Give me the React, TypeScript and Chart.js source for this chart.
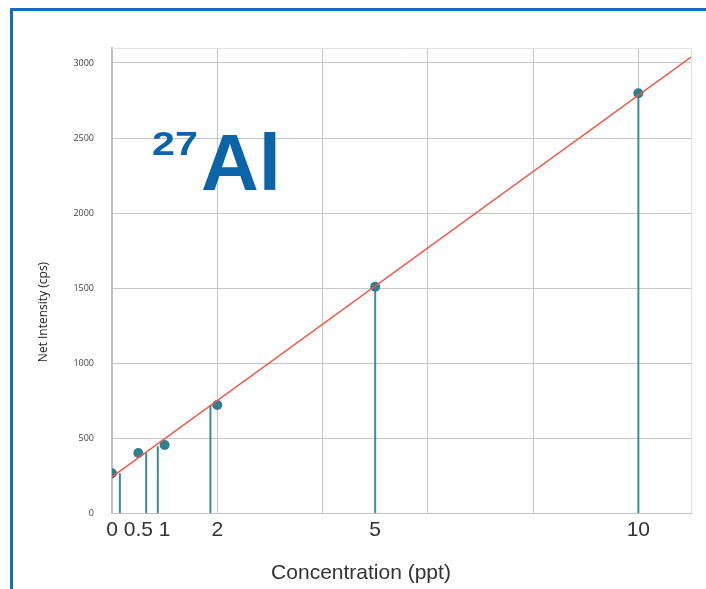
import React, { useEffect, useRef } from 'react';
import { Chart, registerables } from 'chart.js';
Chart.register(...registerables);

// Calibration standards (ppt) and measured net intensity (cps)
const concentrations = [0, 0.5, 1, 2, 5, 10];
const intensities = [265, 400, 453, 720, 1508, 2798];
// Vertical drop lines as drawn in the figure
const stemX = [0.15, 0.65, 0.87, 1.87, 5, 10];
const stemTop = [265, 400, 445, 720, 1508, 2798];
// Fitted calibration line
const fitX = [0, 11];
const fitY = [240, 3040];
// Axis ticks
const xTickValues = [0, 0.5, 1, 2, 4, 5, 6, 8, 10];
const xTickLabels = ['0', '0.5', '1', '2', '5', '10'];
const xGridValues = [2, 4, 6, 8, 10];
const yTickValues = [0, 500, 1000, 1500, 2000, 2500, 3000];

const xTitle = 'Concentration (ppt)';
const yTitle = 'Net Intensity (cps)';
const isotopeMass = '27';
const element = 'Al';

const GRID = '#c3c7cb';
const TEAL = '#2f7f8f';
const STEM = '#3d8d9a';
const RED = '#ef5846';
const BLUE = '#0b64a8';

export default function App() {
  const ref = useRef<HTMLCanvasElement | null>(null);

  useEffect(() => {
    const canvas = ref.current;
    if (!canvas) return;

    const stemData: any[] = [];
    stemX.forEach((x, i) => {
      stemData.push({ x, y: 0 });
      stemData.push({ x, y: stemTop[i] });
      stemData.push({ x, y: null });
    });

    const textPlugin = {
      id: 'texts',
      afterDraw(chart: any) {
        const ctx = chart.ctx;
        const a = chart.chartArea;
        ctx.save();
        // chart area frame (top & right)
        ctx.strokeStyle = '#dfe2e5';
        ctx.lineWidth = 1;
        ctx.beginPath();
        ctx.moveTo(a.left, a.top + 0.5);
        ctx.lineTo(a.right + 0.5, a.top + 0.5);
        ctx.lineTo(a.right + 0.5, a.bottom);
        ctx.stroke();

        // isotope label
        ctx.fillStyle = BLUE;
        ctx.textBaseline = 'alphabetic';
        ctx.textAlign = 'left';
        ctx.save();
        ctx.translate(152, 155);
        ctx.scale(1.25, 1);
        ctx.font = 'bold 33px "Liberation Sans", Arial, sans-serif';
        ctx.fillText(isotopeMass, 0, 0);
        ctx.restore();
        ctx.font = 'bold 80px "Liberation Sans", Arial, sans-serif';
        ctx.fillText(element, 201, 190);

        // axis titles
        ctx.fillStyle = '#333333';
        ctx.textAlign = 'center';
        ctx.textBaseline = 'middle';
        ctx.font = '21px "Liberation Sans", Arial, sans-serif';
        ctx.fillText(xTitle, 361, 573);

        ctx.save();
        ctx.translate(44, 312);
        ctx.rotate(-Math.PI / 2);
        ctx.fillStyle = '#222222';
        ctx.font = '12px "Open Sans", "Noto Sans", sans-serif';
        ctx.fillText(yTitle, 0, 0);
        ctx.restore();
        ctx.restore();
      },
    };

    const chart = new Chart(canvas, {
      type: 'scatter',
      data: {
        datasets: [
          {
            type: 'line',
            label: 'Fit',
            data: fitX.map((x, i) => ({ x, y: fitY[i] })),
            borderColor: RED,
            borderWidth: 1.5,
            pointRadius: 0,
            fill: false,
          } as any,
          {
            label: 'Standards',
            data: concentrations.map((x, i) => ({ x, y: intensities[i] })),
            backgroundColor: TEAL,
            borderColor: TEAL,
            borderWidth: 0,
            pointRadius: 5,
            showLine: false,
          },
          {
            type: 'line',
            label: 'Stems',
            data: stemData,
            borderColor: STEM,
            borderWidth: 2,
            pointRadius: 0,
            spanGaps: false,
            fill: false,
          } as any,
        ],
      },
      options: {
        animation: false,
        responsive: false,
        devicePixelRatio: 1,
        layout: { padding: { top: 48, right: 15, left: 0, bottom: 0 } },
        plugins: {
          legend: { display: false },
          tooltip: { enabled: false },
          title: { display: false },
        },
        scales: {
          x: {
            type: 'linear',
            min: 0,
            max: 11,
            afterBuildTicks: (scale: any) => {
              scale.ticks = xTickValues.map((value) => ({ value }));
            },
            afterFit: (scale: any) => {
              scale.height = 76;
            },
            grid: {
              drawTicks: false,
              color: (c: any) =>
                c.tick && xGridValues.includes(c.tick.value) ? GRID : 'rgba(0,0,0,0)',
              lineWidth: 1,
            },
            border: { display: true, color: '#c0c4c8', width: 1 },
            ticks: {
              autoSkip: false,
              maxRotation: 0,
              padding: 5,
              color: '#333333',
              font: { size: 21, family: '"Liberation Sans", Arial, sans-serif' },
              callback: (v: any) => {
                const s = String(v);
                return xTickLabels.includes(s) ? s : '';
              },
            },
          },
          y: {
            type: 'linear',
            min: 0,
            max: 3100,
            afterBuildTicks: (scale: any) => {
              scale.ticks = yTickValues.map((value) => ({ value }));
            },
            afterFit: (scale: any) => {
              scale.width = 112;
            },
            grid: { drawTicks: false, color: GRID, lineWidth: 1 },
            border: { display: true, color: '#bcc0c4', width: 2 },
            ticks: {
              padding: 18,
              color: '#444444',
              font: { size: 9, family: '"Open Sans", "Noto Sans", sans-serif' },
              callback: (v: any) => String(v),
            },
          },
        },
      },
      plugins: [textPlugin],
    });

    return () => chart.destroy();
  }, []);

  return (
    <div style={{ position: 'fixed', left: 0, top: 0, width: 706, height: 589, background: '#fff' }}>
      <div
        style={{
          position: 'absolute',
          left: 10,
          top: 8,
          width: 700,
          height: 600,
          borderLeft: '3px solid #1a6db4',
          borderTop: '3px solid #1a6db4',
          boxSizing: 'border-box',
        }}
      />
      <canvas
        ref={ref}
        width={706}
        height={589}
        style={{ position: 'absolute', left: 0, top: 0, width: 706, height: 589 }}
      />
    </div>
  );
}
